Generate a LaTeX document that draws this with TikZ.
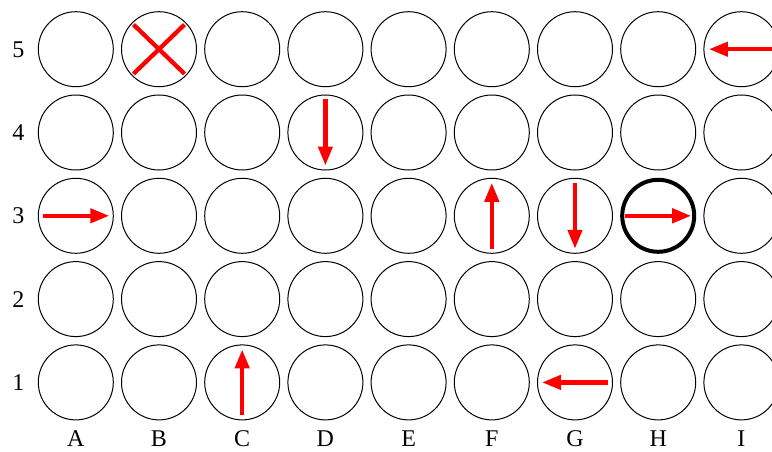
\documentclass[tikz,border=0pt]{standalone}
\usepackage{fontspec}
\setmainfont{Liberation Serif}
\usetikzlibrary{arrows.meta,calc}
\begin{document}
\begin{tikzpicture}[x=1pt,y=-1pt,
  cell/.style={circle,draw=black,line width=1pt,minimum size=75pt,inner sep=0pt},
  hicell/.style={circle,draw=black,line width=4pt,minimum size=72pt,inner sep=0pt},
  mv/.style={red,line width=4.3pt,-{Triangle[length=19pt,width=14pt]}},
  xmark/.style={red,line width=4.3pt},
  lab/.style={font=\fontsize{24}{24}\selectfont,inner sep=0pt,text height=16pt,text depth=0pt,anchor=base}]
\useasboundingbox (0,0) rectangle (772,452);
\foreach \c [count=\i from 0] in {A,B,C,D,E,F,G,H,I}{
  \foreach \r in {1,...,5}{
    \coordinate (\c\r) at ({75.8+83.2*\i},{49.2+83.3*(5-\r)});
  }
  \node[lab] (L\c) at ({75.8+83.2*\i},446.5) {\c};
}
\foreach \r in {1,...,5}{
  \node[lab] (N\r) at (18.3,{57.2+83.3*(5-\r)}) {\r};
}
\foreach \c in {A,B,C,D,E,F,G,I}{
  \foreach \r in {1,...,5}{
    \node[cell] (c\c\r) at (\c\r) {};
  }
}
\foreach \r in {1,2,4,5}{
  \node[cell] (cH\r) at (H\r) {};
}
\node[hicell] (cH3) at (H3) {};
% X on B5
\draw[xmark] ($(B5)+(-25.5,-24.6)$) -- ($(B5)+(25.5,24.6)$);
\draw[xmark] ($(B5)+(25.5,-24.6)$) -- ($(B5)+(-25.5,24.6)$);
% arrows
\coordinate (a1) at ($(I5)+(33,0)$); \coordinate (a2) at ($(I5)+(-32.5,0)$);
\draw[mv] (a1) -- (a2);
\coordinate (b1) at ($(D4)+(0,-33)$); \coordinate (b2) at ($(D4)+(0,33)$);
\draw[mv] (b1) -- (b2);
\coordinate (c1) at ($(A3)+(-32.5,0)$); \coordinate (c2) at ($(A3)+(33.5,0)$);
\draw[mv] (c1) -- (c2);
\coordinate (d1) at ($(F3)+(0,33)$); \coordinate (d2) at ($(F3)+(0,-33)$);
\draw[mv] (d1) -- (d2);
\coordinate (e1) at ($(G3)+(0,-33)$); \coordinate (e2) at ($(G3)+(0,33)$);
\draw[mv] (e1) -- (e2);
\coordinate (f1) at ($(H3)+(-33.5,0)$); \coordinate (f2) at ($(H3)+(33,0)$);
\draw[mv] (f1) -- (f2);
\coordinate (g1) at ($(C1)+(0,33)$); \coordinate (g2) at ($(C1)+(0,-33)$);
\draw[mv] (g1) -- (g2);
\coordinate (h1) at ($(G1)+(33,0)$); \coordinate (h2) at ($(G1)+(-33,0)$);
\draw[mv] (h1) -- (h2);
\end{tikzpicture}
\end{document}
